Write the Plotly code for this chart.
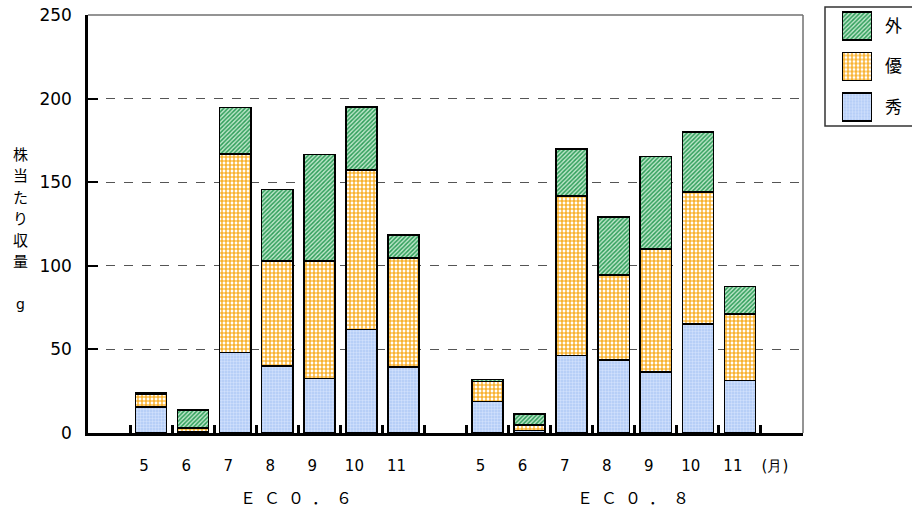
import plotly.graph_objects as go

months = ["5", "6", "7", "8", "9", "10", "11"]
groups = ["Ｅ\u2002Ｃ\u2002０\u2002．\u2002６", "Ｅ\u2002Ｃ\u2002０\u2002．\u2002８"]
unit_label = "(月)"

# 秀 (top grade), 優 (second), 外 (off-grade) — g per plant
shu_ec06 = [15.5, 0.5, 48.2, 40.2, 32.5, 62.0, 39.6]
yu_ec06 = [7.8, 2.5, 118.6, 62.8, 70.5, 95.2, 65.2]
gai_ec06 = [0.7, 10.7, 27.9, 42.7, 63.6, 37.8, 13.7]

shu_ec08 = [18.7, 1.5, 46.4, 43.6, 36.5, 65.2, 31.3]
yu_ec08 = [12.0, 3.3, 95.3, 51.0, 73.7, 78.8, 40.0]
gai_ec08 = [1.3, 6.6, 28.1, 34.5, 55.2, 36.1, 16.2]

series_names = ["秀", "優", "外"]
y_ticks = [0, 50, 100, 150, 200, 250]
y_title_chars = ["株", "当", "た", "り", "収", "量", "", "g"]

# slot positions: empty slot, 7 months, empty slot, 7 months, unit slot
pos = [1 + gi * 8 + mi for gi in range(len(groups)) for mi in range(len(months))]
unit_pos = 16
shu = shu_ec06 + shu_ec08
yu = yu_ec06 + yu_ec08
gai = gai_ec06 + gai_ec08

styles = {
    "秀": dict(color="#b7cff7", pattern=dict(shape="+", fgcolor="#e6eeff", bgcolor="#b7cff7",
                                           size=3, solidity=0.2, fillmode="replace")),
    "優": dict(color="#ffffff", pattern=dict(shape="+", fgcolor="#f7a000", bgcolor="#ffffff",
                                           size=4, solidity=0.5, fillmode="replace")),
    "外": dict(color="#8fd0a5", pattern=dict(shape="/", fgcolor="#2f9e5a", bgcolor="#bfe7cb",
                                           size=3, solidity=0.5, fillmode="replace")),
}

fig = go.Figure()
for name, vals in zip(series_names, [shu, yu, gai]):
    fig.add_trace(go.Bar(
        x=pos, y=vals, width=0.74, name=name, showlegend=False,
        marker=dict(color=styles[name]["color"], pattern=styles[name]["pattern"],
                    line=dict(color="black", width=1.5)),
        xaxis="x", yaxis="y",
    ))

# custom legend drawn as bars on a small axis pair
for name in series_names:
    fig.add_trace(go.Bar(
        x=[1], y=[name], orientation="h", width=0.69, showlegend=False,
        marker=dict(color=styles[name]["color"], pattern=styles[name]["pattern"],
                    line=dict(color="black", width=1.5)),
        xaxis="x2", yaxis="y2", hoverinfo="skip",
    ))

L, R, T, B = 88, 0, 5, 78
W, H = 912, 511
pw, ph = W - L - R, H - T - B

def px_x(px):
    return (px - L) / pw

def px_y(py):
    return (H - B - py) / ph

num_font = "DejaVu Sans"
jp_font = "Noto Sans CJK JP"

title_annos = [
    dict(text=c, xref="paper", yref="paper", x=px_x(20), y=px_y(153 + 21.5 * i),
         xanchor="center", yanchor="middle", showarrow=False,
         font=dict(family=jp_font if c != "g" else num_font, size=15 if c != "g" else 14,
                   color="black"))
    for i, c in enumerate(y_title_chars) if c
]

fig.update_layout(
    width=W, height=H,
    margin=dict(l=L, r=R, t=T, b=B, pad=0, autoexpand=False),
    paper_bgcolor="white", plot_bgcolor="white",
    barmode="stack",
    font=dict(family=jp_font, color="black"),
    xaxis=dict(
        domain=[0, px_x(803)], range=[-0.5, 16.5], anchor="y", automargin=False,
        showline=True, linecolor="black", linewidth=3,
        tickvals=pos + [unit_pos], ticktext=months * 2 + [unit_label],
        ticks="", showgrid=False, zeroline=False,
        tickfont=dict(family=num_font, size=15, color="black"),
        ticklabelstandoff=17, ticklabelshift=-7,
        minor=dict(tickvals=[k + 0.5 for k in range(16)], ticks="inside",
                   ticklen=8, tickwidth=2.5, tickcolor="black", showgrid=False),
    ),
    yaxis=dict(
        domain=[0, px_y(15)], range=[0, 250], anchor="x", automargin=False,
        tickvals=y_ticks, ticks="inside", ticklen=10, tickwidth=2, tickcolor="black",
        showline=True, linecolor="black", linewidth=2.5,
        showgrid=True, gridcolor="#555555", griddash="dash", gridwidth=1.2,
        zeroline=False,
        tickfont=dict(family=num_font, size=17, color="black"),
        ticklabelstandoff=10,
    ),
    xaxis2=dict(domain=[px_x(842), px_x(872)], range=[0, 1], anchor="y2",
                visible=False, fixedrange=True, automargin=False),
    yaxis2=dict(domain=[px_y(127.5), px_y(5.5)], anchor="x2", side="right",
                type="category", categoryorder="array", categoryarray=["秀", "優", "外"],
                range=[-0.5, 2.5], showline=False, ticks="", showgrid=False, zeroline=False,
                tickfont=dict(family=jp_font, size=17, color="black"), automargin=False,
                ticklabelstandoff=12, fixedrange=True),
    shapes=[
        dict(type="line", xref="x domain", yref="y domain", x0=0, x1=1, y0=1, y1=1,
             line=dict(color="#707070", width=1.5)),
        dict(type="line", xref="x domain", yref="y domain", x0=1, x1=1, y0=0, y1=1,
             line=dict(color="#707070", width=1.5)),
        dict(type="rect", xref="paper", yref="paper",
             x0=px_x(825), x1=px_x(916), y0=px_y(126), y1=px_y(7),
             line=dict(color="#333333", width=1.5), fillcolor="rgba(0,0,0,0)", layer="below"),
    ],
    annotations=title_annos + [
        dict(text=g, xref="x", yref="paper", x=4.45 + gi * 8, y=px_y(497),
             xanchor="center", yanchor="middle", showarrow=False,
             font=dict(family=jp_font, size=16, color="black"))
        for gi, g in enumerate(groups)
    ],
)

fig.write_html("out.html", config={"displayModeBar": False},
               post_script="document.body.style.margin='0';document.body.style.overflow='hidden';")
